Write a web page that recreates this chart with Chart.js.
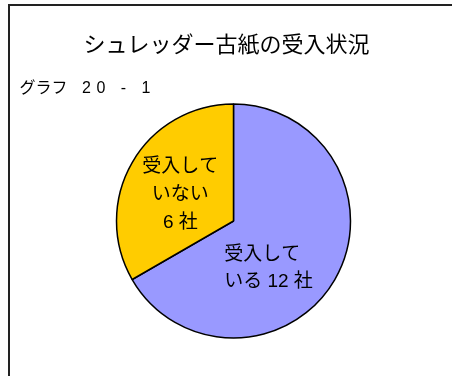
<!DOCTYPE html>
<html>
<head>
<meta charset="utf-8">
<script src="https://cdn.jsdelivr.net/npm/chart.js@4"></script>
<style>
  html, body { margin: 0; padding: 0; background: #fff; }
  #wrap { width: 452px; height: 376px; }
</style>
</head>
<body>
<div id="wrap"><canvas id="shredderPie" width="452" height="376"></canvas></div>
<script>
// 受入状況 (社数)
var categories = ['受入している', '受入していない'];
var companyCounts = [12, 6];
var sliceColors = ['#9999FF', '#FFCC00'];

var chartTitle = 'シュレッダー古紙の受入状況';
var figureName = 'グラフ';
var figureNumber = '20 - 1';

var FONT = "'Liberation Sans', 'Noto Sans CJK JP', sans-serif";

// text inside each slice, count comes from the data
function sliceLines(i) {
    if (i === 0) return ['受入して', 'いる ' + companyCounts[0] + ' 社'];
    return ['受入して', 'いない', companyCounts[1] + ' 社'];
}

// per slice: alignment and nudge from the arc's tooltip position
var labelPlace = [
    { align: 'left', dx: -60, dy: 18, lineGap: 27 },
    { align: 'center', dx: -2.5, dy: 3, lineGap: 28 }
];

const decorPlugin = {
    id: 'decor',
    afterDraw(chart) {
        const ctx = chart.ctx;
        ctx.save();

        // frame
        ctx.strokeStyle = '#222';
        ctx.lineWidth = 2;
        ctx.strokeRect(9, 5, 470, 400);

        ctx.fillStyle = '#000';
        ctx.textBaseline = 'middle';

        // title
        ctx.font = '22px ' + FONT;
        ctx.textAlign = 'center';
        ctx.fillText(chartTitle, 226.5, 46);

        // figure number
        ctx.font = '16px ' + FONT;
        ctx.textAlign = 'left';
        ctx.fillText(figureName, 19.5, 89);
        ctx.letterSpacing = '5.5px';
        ctx.fillText(figureNumber, 82, 89);
        ctx.letterSpacing = '0px';

        // slice labels
        ctx.font = '19px ' + FONT;
        const meta = chart.getDatasetMeta(0);
        meta.data.forEach(function (arc, i) {
            const p = arc.tooltipPosition();
            const place = labelPlace[i];
            const lines = sliceLines(i);
            const x = p.x + place.dx;
            const y0 = p.y + place.dy - (lines.length - 1) * place.lineGap / 2;
            ctx.textAlign = place.align;
            lines.forEach(function (t, k) {
                ctx.fillText(t, x, y0 + k * place.lineGap);
            });
        });

        ctx.restore();
    }
};

const config = {
    type: 'pie',
    data: {
        labels: categories,
        datasets: [{
            data: companyCounts,
            backgroundColor: sliceColors,
            borderColor: '#000',
            borderWidth: 1.5
        }]
    },
    options: {
        responsive: true,
        maintainAspectRatio: false,
        animation: false,
        layout: {
            padding: { top: 103.25, bottom: 37.25, left: 20, right: 5 }
        },
        plugins: {
            legend: { display: false },
            title: { display: false },
            tooltip: { enabled: false }
        }
    },
    plugins: [decorPlugin]
};

const shredderPie = new Chart('shredderPie', config);
</script>
</body>
</html>
